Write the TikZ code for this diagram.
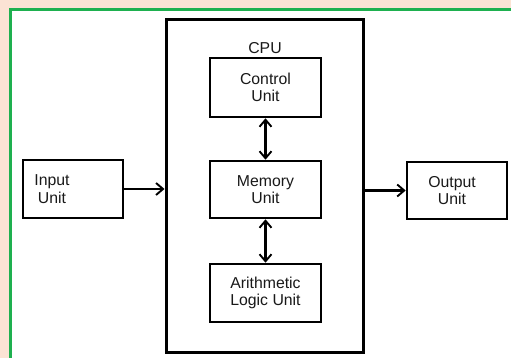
\documentclass[tikz,border=0pt]{standalone}
\usepackage{fontspec}
\setmainfont{Liberation Sans}
\usetikzlibrary{arrows.meta}
\definecolor{peach}{HTML}{FBE3D4}
\definecolor{bordergreen}{HTML}{1EB04F}
\begin{document}
\begin{tikzpicture}[x=1pt,y=-1pt,
  unitbox/.style={draw=black,line width=2.6pt,fill=white,inner sep=0pt},
  lbl/.style={font=\fontsize{15.8}{17.5}\selectfont,align=center,inner sep=0pt,text=black!90},
  conn/.style={line width=2.2pt,-{Straight Barb[length=7pt,width=12pt,line width=1.9pt]}},
  biconn/.style={line width=2.2pt,{Straight Barb[length=7pt,width=12pt,line width=1.9pt]}-{Straight Barb[length=7pt,width=12pt,line width=1.9pt]}}]
\useasboundingbox (0,0) rectangle (511,358);
\fill[peach] (0,0) rectangle (511,358);
\fill[white] (10,10) rectangle (511,358);
\draw[bordergreen,line width=3pt] (10,358) -- (10,10) -- (511,10);
% CPU
\node[unitbox,line width=3pt,minimum width=197pt,minimum height=332pt] (cpu) at (264.5,186) {};
\node[lbl] (cpulbl) at (265,48) {CPU};
% inner units
\node[unitbox,minimum width=111pt,minimum height=59pt] (cu) at (265.5,87.5) {};
\node[lbl] at (cu.center) {Control\\Unit};
\node[unitbox,minimum width=111pt,minimum height=57pt] (mu) at (265.5,189.5) {};
\node[lbl] at (mu.center) {Memory\\Unit};
\node[unitbox,minimum width=111pt,minimum height=58pt] (alu) at (265.5,293) {};
\node[lbl] at (alu.center) {Arithmetic\\Logic Unit};
% input/output
\node[unitbox,minimum width=100pt,minimum height=58pt] (in) at (73,189) {};
\node[lbl] at (52,189) {Input\\Unit};
\node[unitbox,minimum width=100pt,minimum height=57pt] (out) at (457,190.5) {};
\node[lbl] at (452,190.5) {Output\\Unit};
% connectors
\draw[conn] (in.east) -- (in.east -| cpu.west);
\draw[conn] (cpu.east |- out.west) -- (out.west);
\draw[biconn] (cu.south) -- (mu.north);
\draw[biconn] (mu.south) -- (alu.north);
\end{tikzpicture}
\end{document}
